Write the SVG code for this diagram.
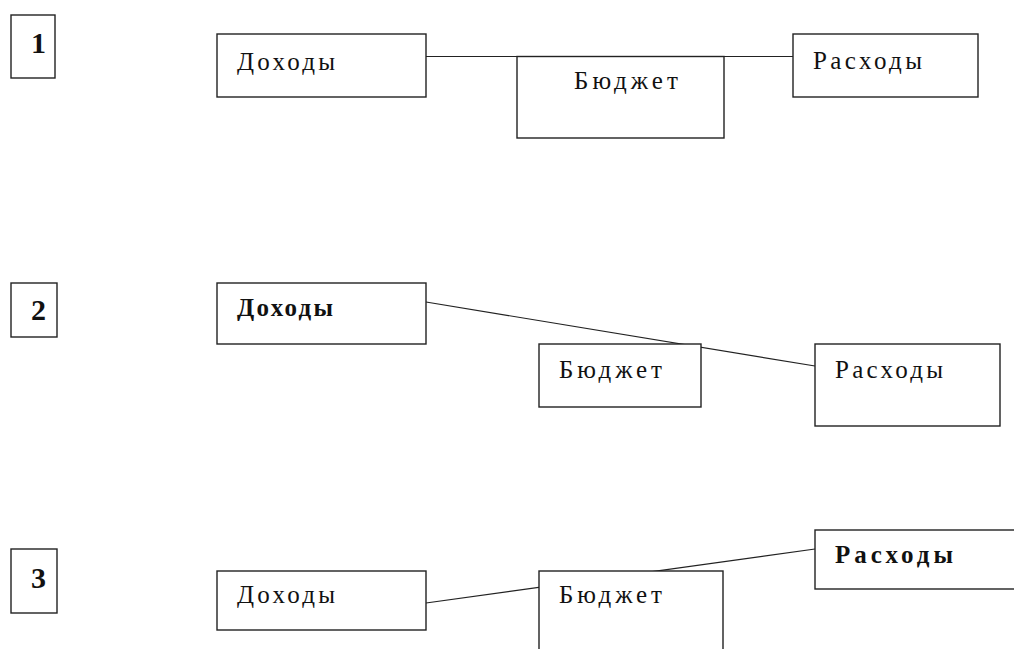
<svg xmlns="http://www.w3.org/2000/svg" width="1014" height="649" viewBox="0 0 1014 649">
<style>
.box{fill:#fff;stroke:#222;stroke-width:1.4}
.ln{stroke:#222;stroke-width:1.2;fill:none}
.t{font-family:"Liberation Serif","Times New Roman",serif;font-size:25px;fill:#111}
.b{font-weight:bold}
.n{font-family:"Liberation Serif","Times New Roman",serif;font-size:30px;font-weight:bold;fill:#111;text-anchor:middle}
</style>
<rect width="1014" height="649" fill="#fff"/>
<g id="connectors">
<line class="ln" x1="426" y1="56.5" x2="793" y2="56.5"/>
<line class="ln" x1="426" y1="302" x2="815" y2="366"/>
<line class="ln" x1="426" y1="603" x2="815" y2="549"/>
</g>
<g id="label1"><rect class="box" x="11" y="15" width="44" height="63"/><text class="n" x="38.5" y="53">1</text></g>
<g id="income1"><rect class="box" x="217" y="34" width="209" height="63"/><text class="t" x="237" y="70" textLength="98" lengthAdjust="spacing">Доходы</text></g>
<g id="budget1"><rect class="box" x="517" y="56.5" width="207" height="81.5"/><text class="t" x="574" y="89" textLength="104" lengthAdjust="spacing">Бюджет</text></g>
<g id="expense1"><rect class="box" x="793" y="34" width="185" height="63"/><text class="t" x="813" y="69" textLength="109" lengthAdjust="spacing">Расходы</text></g>
<g id="label2"><rect class="box" x="11" y="283" width="46" height="54"/><text class="n" x="38.5" y="320">2</text></g>
<g id="income2"><rect class="box" x="217" y="283" width="209" height="61"/><text class="t b" x="237" y="316" textLength="96" lengthAdjust="spacing">Доходы</text></g>
<g id="budget2"><rect class="box" x="539" y="344" width="162" height="63"/><text class="t" x="559" y="378" textLength="103" lengthAdjust="spacing">Бюджет</text></g>
<g id="expense2"><rect class="box" x="815" y="344" width="185" height="82"/><text class="t" x="835" y="378" textLength="108" lengthAdjust="spacing">Расходы</text></g>
<g id="label3"><rect class="box" x="11" y="549" width="46" height="64"/><text class="n" x="38.5" y="588">3</text></g>
<g id="income3"><rect class="box" x="217" y="571" width="209" height="59"/><text class="t" x="237" y="603" textLength="98" lengthAdjust="spacing">Доходы</text></g>
<g id="budget3"><rect class="box" x="539" y="571" width="184" height="100"/><text class="t" x="559" y="603" textLength="103" lengthAdjust="spacing">Бюджет</text></g>
<g id="expense3"><rect class="box" x="815" y="530" width="210" height="59"/><text class="t b" x="835" y="563" textLength="118" lengthAdjust="spacing">Расходы</text></g>
</svg>
